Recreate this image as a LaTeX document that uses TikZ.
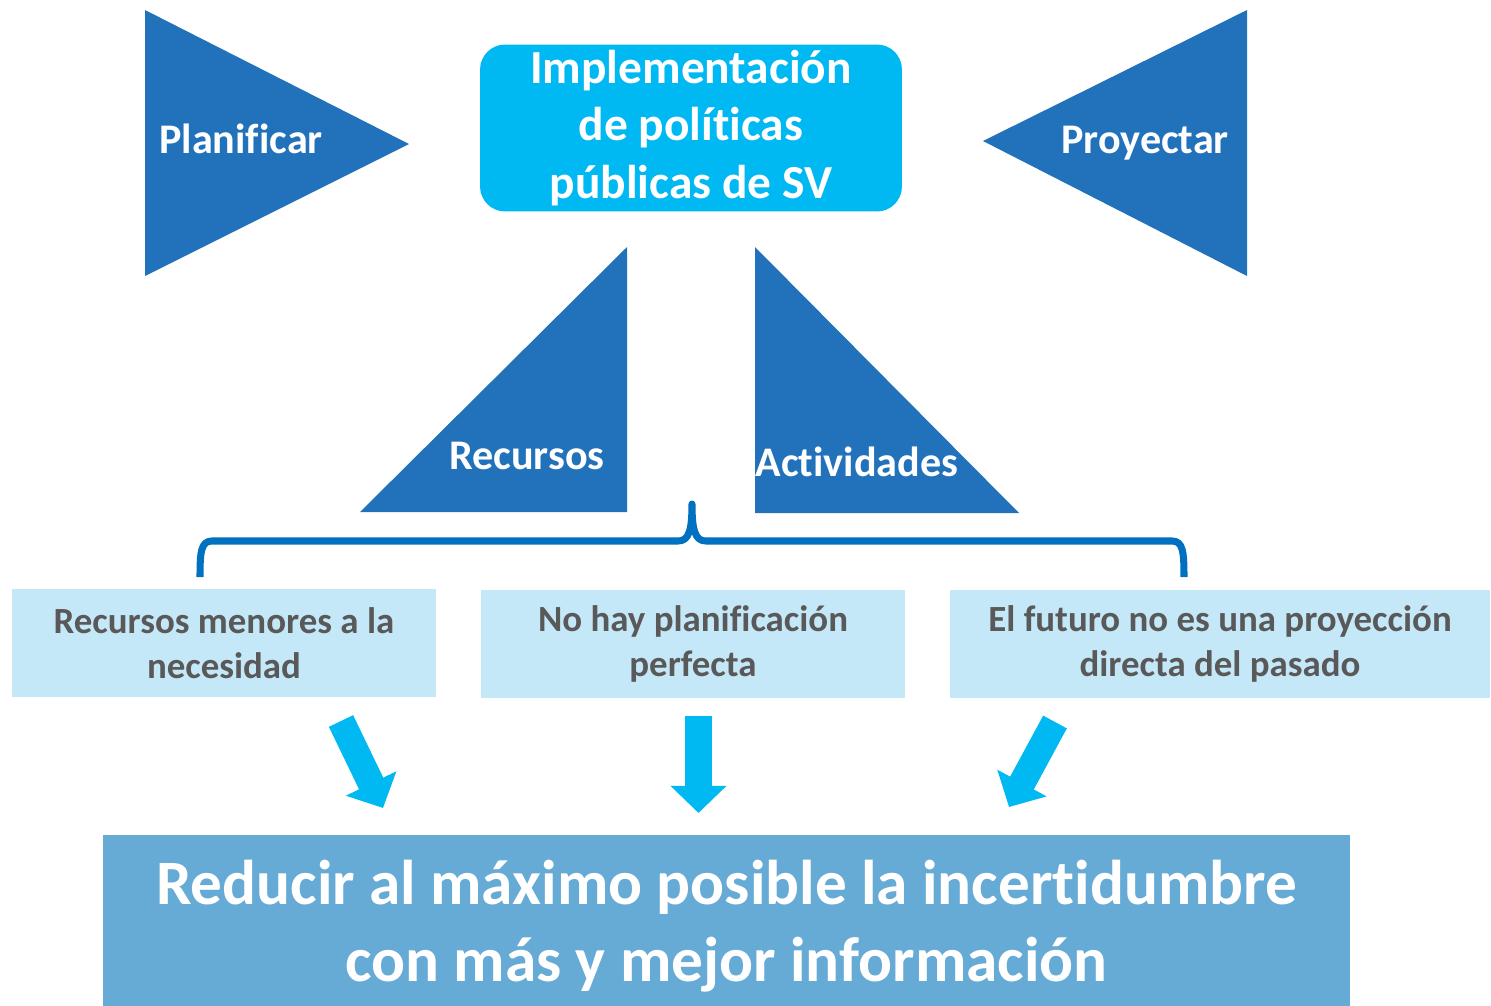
\documentclass[tikz,border=0pt]{standalone}
\usepackage{fontspec}
\setmainfont{Carlito}[Ligatures={NoCommon,NoContextual}]
\usetikzlibrary{arrows.meta}
\definecolor{triblue}{RGB}{34,113,187}
\definecolor{cyanbox}{RGB}{0,184,242}
\definecolor{palebox}{RGB}{197,232,248}
\definecolor{basebox}{RGB}{102,170,214}
\definecolor{bracecol}{RGB}{0,112,192}
\definecolor{boxtext}{RGB}{89,89,89}
\begin{document}
\begin{tikzpicture}[x=0.02cm,y=-0.02cm]
\tikzstyle{tri}=[fill=triblue]
\tikzstyle{trilabel}=[text=white, inner sep=0pt, font=\bfseries\fontsize{24}{29}\selectfont]
\tikzstyle{topbox}=[fill=cyanbox, rounded corners=0.5cm, text=white, align=center, inner sep=0pt, minimum width=8.44cm, minimum height=3.34cm, font=\bfseries\fontsize{27}{32.6}\selectfont]
\tikzstyle{idea}=[fill=palebox, text=boxtext, align=center, inner sep=0pt, minimum height=2.16cm, font=\bfseries\fontsize{21}{25.5}\selectfont]
\tikzstyle{goal}=[fill=basebox, text=white, align=center, inner sep=0pt, minimum width=24.94cm, minimum height=3.64cm, font=\bfseries\fontsize{36}{43.7}\selectfont]
\tikzstyle{bigarrow}=[draw=cyanbox, line width=15.3pt, -{Triangle[width=31pt,length=15.5pt]}]
\useasboundingbox (0,0) rectangle (1491,1005);

\fill[tri] (145,10) -- (409,144) -- (145,276) -- cycle;
\fill[tri] (1247,10) -- (983,141) -- (1247,276) -- cycle;
\fill[tri] (360,512) -- (627,247) -- (627,512) -- cycle;
\fill[tri] (755,247) -- (1019,513) -- (755,513) -- cycle;

\node[trilabel, anchor=base] (plan) at (241,153) {Planificar};
\node[trilabel, anchor=base] (proy) at (1145,153) {Proyectar};
\node[trilabel, anchor=base] (recu) at (527,469) {Recursos};
\node[trilabel, anchor=base] (acti) at (857,476) {Actividades};

\node[topbox] (impl) at (691,128) {Implementación\\de políticas\\públicas de SV};

\draw[bracecol, line width=4pt, line join=round] (200,577) .. controls (200,552) and (201,541) .. (212,541) -- (678,541) .. controls (689,541) and (692,530) .. (692,504) .. controls (692,530) and (695,541) .. (706,541) -- (1172,541) .. controls (1183,541) and (1184,552) .. (1184,577);

\node[idea, minimum width=8.48cm] (menos) at (224,643) {Recursos menores a la\\necesidad};
\node[idea, minimum width=8.48cm] (noplan) at (693,644) {No hay planificación\\perfecta};
\node[idea, minimum width=10.8cm] (futuro) at (1220,644) {El futuro no es una proyección\\directa del pasado};

\node[goal] (meta) at (726.5,926) {Reducir al máximo posible la incertidumbre\\con más y mejor información};

\coordinate (a1) at (341,721);
\coordinate (b1) at (383,808);
\coordinate (a2) at (698.5,716);
\coordinate (b2) at (698.5,813);
\coordinate (a3) at (1055,722);
\coordinate (b3) at (1009,807);
\draw[bigarrow] (a1) -- (b1);
\draw[bigarrow] (a2) -- (b2);
\draw[bigarrow] (a3) -- (b3);
\end{tikzpicture}
\end{document}
